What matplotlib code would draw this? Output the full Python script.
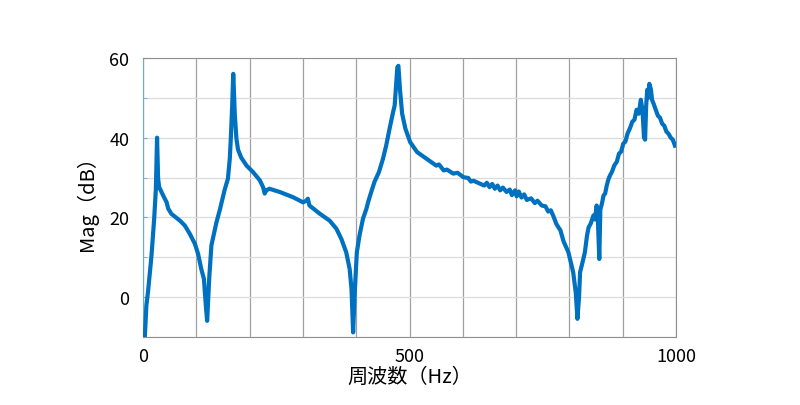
"""Frequency response magnitude plot."""

import matplotlib
matplotlib.use("Agg")
import matplotlib.pyplot as plt
from matplotlib.ticker import MultipleLocator

plt.rcParams["font.family"] = ["Noto Sans CJK JP", "DejaVu Sans"]

# frequency (Hz) and magnitude (dB)
freq_hz = [
    3, 6, 9, 15.6, 20.6, 23.8, 26, 28, 30, 37.5, 44, 47, 53, 69, 78, 87.5, 97,
    103, 109, 114, 117.5, 120, 124, 128, 137.5, 144, 153, 159, 162.5, 164.4,
    167, 169, 172, 175, 178, 184, 194, 206, 219, 225, 228, 231, 237, 256, 281,
    300, 306, 309, 312, 331, 350, 362.5, 372, 381, 387.5, 391, 394, 397, 401,
    406, 412.5, 419, 422, 428, 434, 442.5, 450, 456, 462.5, 469, 472, 475, 477,
    479, 482, 486, 492, 501, 514, 532, 545, 550, 555, 564, 570, 582, 590, 601,
    610, 615, 620, 630, 640, 645, 650, 655, 660, 665, 670, 675, 682, 688, 692,
    698, 701, 705, 710, 715, 720, 728, 735, 740, 748, 755, 760, 765, 770, 775,
    779, 783, 789, 798, 807, 812, 815, 818, 820, 825, 829, 833, 836, 840, 845,
    848, 851, 853, 856, 858, 861, 864, 867, 870, 873, 876, 880, 884, 889, 893,
    897, 901, 905, 909, 914, 918, 922, 926, 930, 934, 937, 940, 942, 944, 946,
    948, 950, 953, 955, 958, 962, 966, 970, 974, 978, 982, 986, 990, 994, 998,
]
mag_db = [
    -10.0, -2.0, 1.3, 10.5, 19.7, 27.2, 40.0, 29.7, 27.6, 25.5, 23.8, 22.2,
    20.9, 19.2, 18.0, 15.9, 13.4, 10.9, 7.1, 4.6, -2.0, -5.9, 5.0, 13.0, 18.8,
    22.0, 27.0, 29.7, 34.7, 39.7, 48.0, 56.0, 45.6, 39.7, 37.0, 35.0, 33.0,
    31.4, 29.3, 27.6, 26.0, 26.8, 27.2, 26.4, 25.1, 23.8, 24.2, 24.7, 23.0,
    21.0, 19.2, 17.2, 14.6, 11.3, 7.1, 2.0, -8.8, 1.3, 11.3, 15.5, 19.7, 22.2,
    23.8, 26.4, 28.9, 31.4, 34.7, 38.0, 42.3, 46.4, 48.1, 54.0, 57.7, 58.0,
    52.0, 46.0, 42.3, 38.9, 36.4, 34.7, 33.5, 33.0, 33.3, 31.8, 32.0, 31.0,
    31.2, 30.1, 29.9, 29.0, 29.2, 28.6, 28.0, 28.7, 27.6, 28.4, 27.2, 28.0,
    26.8, 27.5, 26.4, 27.0, 25.6, 26.8, 25.3, 26.5, 25.0, 25.8, 24.4, 24.8,
    23.6, 24.2, 23.0, 22.8, 21.5, 21.8, 20.3, 18.5, 17.6, 16.8, 14.0, 11.3,
    6.3, 1.0, -5.4, 0.0, 6.3, 9.0, 11.3, 15.5, 17.5, 18.5, 20.5, 19.5, 23.0,
    21.0, 9.6, 22.0, 23.5, 25.5, 26.0, 28.0, 29.5, 30.5, 31.5, 33.0, 34.0,
    36.0, 36.5, 38.5, 39.0, 41.0, 42.5, 44.0, 44.5, 47.0, 46.0, 49.5, 47.0,
    40.0, 39.5, 48.0, 52.0, 50.0, 53.5, 52.0, 49.5, 48.5, 47.0, 45.5, 45.0,
    43.5, 43.0, 41.5, 41.0, 40.0, 39.5, 38.0,
]

X_TICKS = [0, 500, 1000]
Y_TICKS = [0, 20, 40, 60]

fig = plt.figure(figsize=(8, 4.06), dpi=100)
ax = fig.add_axes([0.179, 0.167, 0.666, 0.688])

ax.plot(freq_hz, mag_db, color="#0070c0", lw=3.0, solid_joinstyle="round", zorder=3)

ax.set_xlim(0, 1000)
ax.set_ylim(-10, 60)
ax.set_xticks(X_TICKS)
ax.set_yticks(Y_TICKS)
ax.xaxis.set_minor_locator(MultipleLocator(100))
ax.yaxis.set_minor_locator(MultipleLocator(10))

ax.grid(True, axis="x", which="both", color="#a0a0a0", lw=0.9)
ax.grid(True, axis="y", which="both", color="#dcdcdc", lw=0.9)
ax.set_axisbelow(True)

for side in ("top", "right", "bottom"):
    ax.spines[side].set_color("#909090")
ax.spines["left"].set_color("#6fa8dc")
ax.tick_params(axis="x", which="both", length=0, labelsize=13, pad=7)
ax.tick_params(axis="y", which="both", direction="in", length=3, color="#6fa8dc",
               labelsize=13, pad=10)

ax.set_xlabel("周波数（Hz）", fontsize=14.5, labelpad=1)
ax.set_ylabel("Mag（dB）", fontsize=14.5, labelpad=8)

fig.savefig("out.png", dpi=100)
